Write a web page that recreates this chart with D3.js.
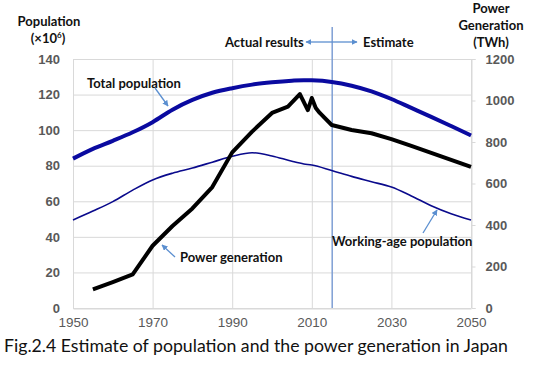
<!DOCTYPE html>
<html><head><meta charset="utf-8">
<script src="https://cdn.jsdelivr.net/npm/d3@7"></script>
<style>body{margin:0;background:#fff}svg{display:block}</style>
</head><body>
<svg id="c" width="550" height="377"></svg>
<script>
const popYears = [1950,1955,1960,1965,1970,1975,1980,1985,1990,1995,2000,2005,2008,2010,2015,2020,2025,2030,2035,2040,2045,2050];
const totalPop = [84,89.5,94,98.8,104.5,111.5,117,121,123.6,125.6,126.9,127.8,128.1,128,127.1,125,121.8,117.5,112.5,107.5,102.3,97];
const workPop  = [49.5,54.5,59.8,66.3,72,75.8,78.7,82,85.3,87.3,85.5,82.5,81,80.4,77.3,74,71,68,63,57.5,53,49.5];
const powerYears = [1955,1960,1965,1970,1975,1980,1985,1990,1995,2000,2004,2007,2009,2010,2011,2012,2015,2020,2025,2030,2035,2040,2045,2050];
const power      = [90,125,162,300,395,480,583,750,850,940,970,1031,954,1012,964,940,882,858,842,814,781,748,714,680];
const xTicks = [1950,1970,1990,2010,2030,2050];
const yLeftTicks = [0,20,40,60,80,100,120,140];
const yRightTicks = [0,200,400,600,800,1000,1200];

const svg = d3.select("#c");
const L=73,R=471,T=59,B=308;
const x = d3.scaleLinear().domain([1950,2050]).range([L,R]);
const yL = d3.scaleLinear().domain([0,140]).range([B,T]);
const yR = d3.scaleLinear().domain([0,1200]).range([B,T]);

const defs = svg.append("defs");
defs.append("marker").attr("id","ah").attr("viewBox","0 0 10 10").attr("refX",9).attr("refY",5)
  .attr("markerWidth",6).attr("markerHeight",6).attr("orient","auto-start-reverse").attr("markerUnits","userSpaceOnUse")
  .append("path").attr("d","M0,0L10,5L0,10z").attr("fill","#5b8fd0");

// grid
const grid = svg.append("g").attr("stroke","#d9d9d9").attr("stroke-width",1);
yLeftTicks.forEach(t=>grid.append("line").attr("x1",L).attr("x2",R).attr("y1",yL(t)+0.5).attr("y2",yL(t)+0.5));
xTicks.forEach(t=>grid.append("line").attr("x1",x(t)+0.5).attr("x2",x(t)+0.5).attr("y1",T).attr("y2",B));

// axes
const tickFont = "'Liberation Sans', Arial, sans-serif";
const ga = svg.append("g").attr("transform",`translate(${L},0)`).call(d3.axisLeft(yL).tickValues(yLeftTicks).tickSize(0).tickPadding(13));
const gr = svg.append("g").attr("transform",`translate(${R+0.5},0)`).call(d3.axisRight(yR).tickValues(yRightTicks).tickFormat(d3.format("d")).tickSize(4).tickPadding(10));
const gb = svg.append("g").attr("transform",`translate(0,${B+0.5})`).call(d3.axisBottom(x).tickValues(xTicks).tickFormat(d3.format("d")).tickSize(0).tickPadding(9));
[ga,gr,gb].forEach(g=>{
  g.select(".domain").attr("stroke","#d9d9d9");
  g.selectAll(".tick line").attr("stroke","#d9d9d9");
  g.selectAll("text").attr("fill","#595959").style("font-family",tickFont).style("font-size","13px");
});
ga.selectAll("text").style("font-weight","bold");
gr.selectAll("text").style("font-weight","bold");
gb.selectAll("text").style("font-size","13.5px");
ga.select(".domain").remove();

// vertical separator at 2015
const sepX = x(2015)+0.5;
svg.append("line").attr("x1",sepX).attr("x2",sepX).attr("y1",27).attr("y2",B).attr("stroke","#7f9fd4").attr("stroke-width",1.5);

// lines
const lineL = d3.line().x(d=>x(d[0])).y(d=>yL(d[1])).curve(d3.curveMonotoneX);
const lineR = d3.line().x(d=>x(d[0])).y(d=>yR(d[1]));
svg.append("path").datum(popYears.map((y,i)=>[y,workPop[i]])).attr("d",lineL).attr("fill","none").attr("stroke","#0a0a8c").attr("stroke-width",1.6);
svg.append("path").datum(popYears.map((y,i)=>[y,totalPop[i]])).attr("d",lineL).attr("fill","none").attr("stroke","#0a0aa0").attr("stroke-width",4);
svg.append("path").datum(powerYears.map((y,i)=>[y,power[i]])).attr("d",lineR).attr("fill","none").attr("stroke","#000").attr("stroke-width",4).attr("stroke-linejoin","round");

// annotations
const lab = "Lato, 'Open Sans', sans-serif";
function label(t,xx,yy,anchor){svg.append("text").attr("x",xx).attr("y",yy).attr("text-anchor",anchor||"start").attr("font-family",lab).attr("font-weight","bold").attr("font-size",13).attr("fill","#111").text(t);}
function arrow(x1,y1,x2,y2){svg.append("line").attr("x1",x1).attr("y1",y1).attr("x2",x2).attr("y2",y2).attr("stroke","#5b8fd0").attr("stroke-width",1.3).attr("marker-end","url(#ah)");}
label("Total population",87,88);
arrow(155,88,168,106);
label("Power generation",180,262);
arrow(175,257,162,245);
label("Working-age population",332,246);
arrow(423,233,437,210);
label("Actual results",225,47);
label("Estimate",363,47);
arrow(sepX,42,306,42);
arrow(sepX,42,357,42);

// axis titles
label("Population",49,26,"middle");
svg.append("text").attr("x",48).attr("y",43).attr("text-anchor","middle").attr("font-family",lab).attr("font-weight","bold").attr("font-size",13).attr("fill","#111")
  .html("(×10<tspan font-size='8' dy='-5'>6</tspan><tspan dy='5'>)</tspan>");
label("Power",491,13,"middle");
label("Generation",491,30,"middle");
label("(TWh)",491,47,"middle");

// caption
svg.append("text").attr("x",4).attr("y",352).attr("font-family","Lato, 'Open Sans', sans-serif").attr("font-size",18).attr("fill","#111")
  .attr("textLength",504).attr("lengthAdjust","spacingAndGlyphs").text("Fig.2.4 Estimate of population and the power generation in Japan");
</script>
</body></html>
